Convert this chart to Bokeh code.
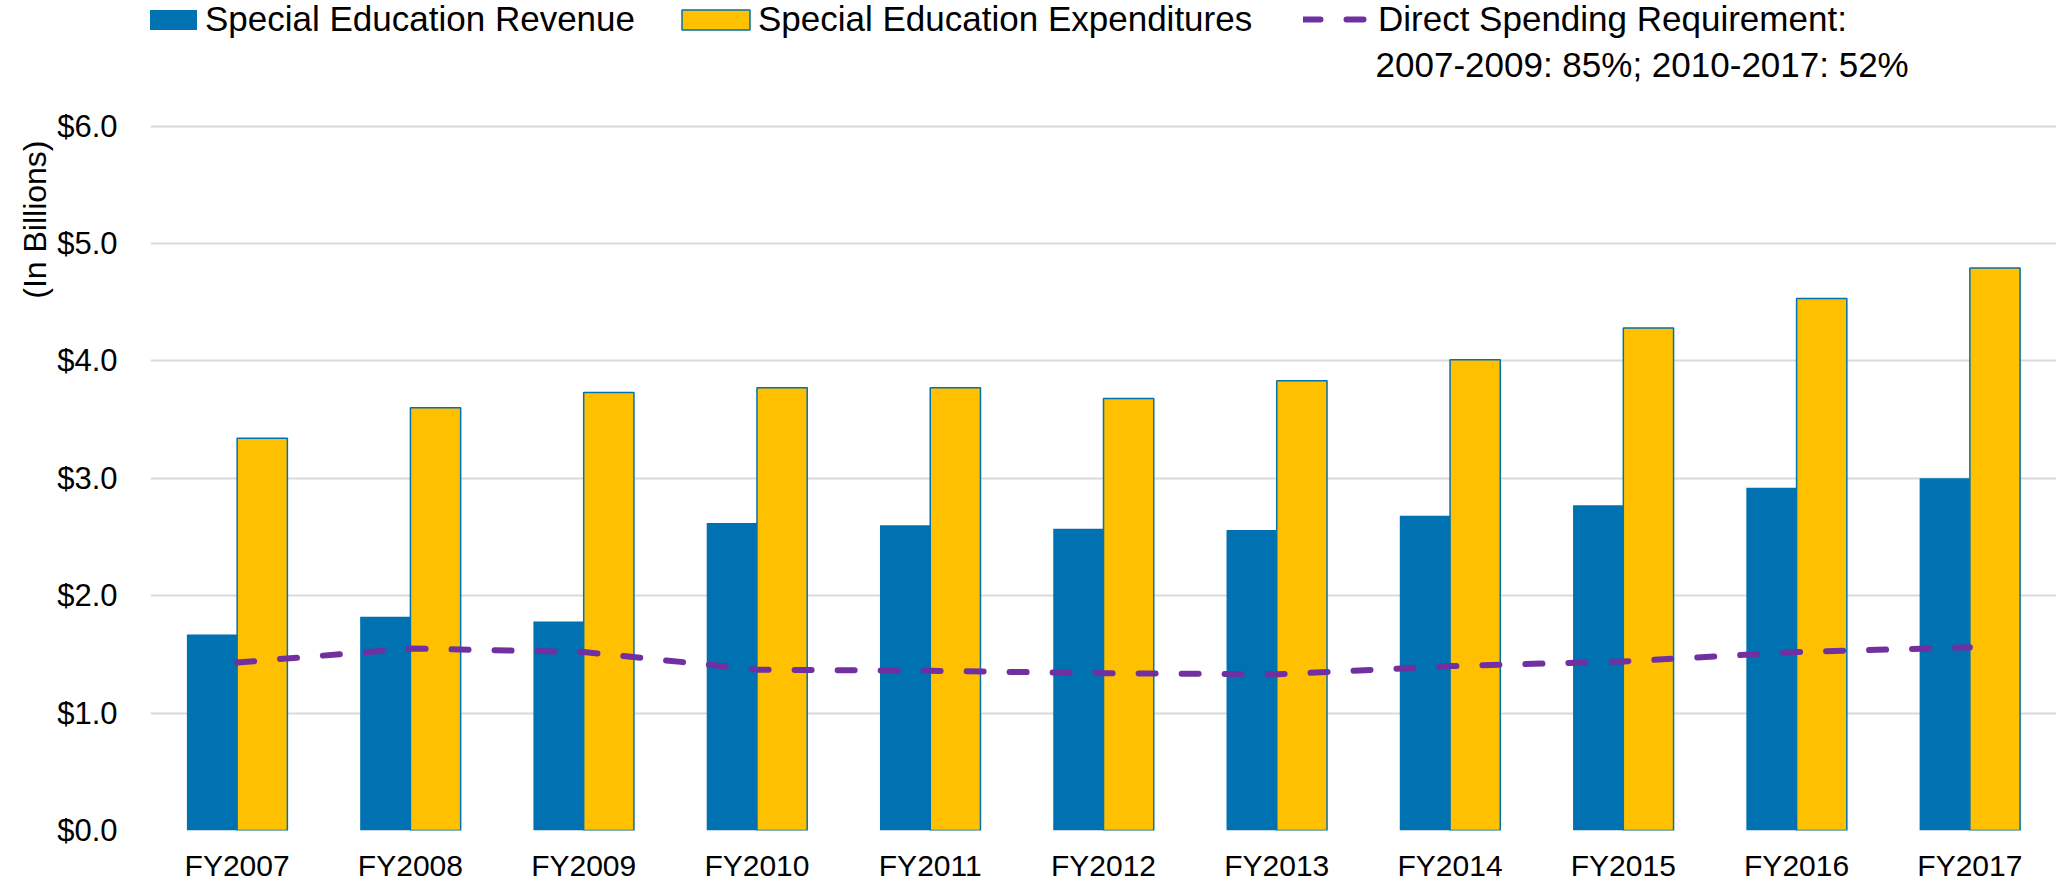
from bokeh.plotting import figure
from bokeh.models import (ColumnDataSource, FixedTicker, Legend, LegendItem, Label, Title)
from bokeh.transform import dodge
from bokeh.embed import file_html
from bokeh.resources import INLINE

# ---- data ----
years = ["FY2007", "FY2008", "FY2009", "FY2010", "FY2011", "FY2012",
         "FY2013", "FY2014", "FY2015", "FY2016", "FY2017"]
revenue = [1.67, 1.82, 1.78, 2.62, 2.60, 2.57, 2.56, 2.68, 2.77, 2.92, 3.00]
expenditures = [3.34, 3.60, 3.73, 3.77, 3.77, 3.68, 3.83, 4.01, 4.28, 4.53, 4.79]
requirement = [1.43, 1.55, 1.52, 1.37, 1.36, 1.34, 1.33, 1.40, 1.44, 1.52, 1.56]
y_ticks = [0, 1, 2, 3, 4, 5, 6]
y_tick_labels = ["$0.0", "$1.0", "$2.0", "$3.0", "$4.0", "$5.0", "$6.0"]
label_rev = "Special Education Revenue"
label_exp = "Special Education Expenditures"
label_req_1 = "Direct Spending Requirement:"
label_req_2 = "2007-2009: 85%; 2010-2017: 52%"
y_title = "(In Billions)"

BLUE = "#0071B1"
GOLD = "#FFC000"
PURPLE = "#7030A0"
GRID = "#D9D9D9"
FONT = "Liberation Sans"

src = ColumnDataSource(dict(year=years, rev=revenue, exp=expenditures, req=requirement))

p = figure(x_range=years, y_range=(0, 7.069), width=2056, height=884,
           output_backend="svg", toolbar_location=None,
           min_border_left=150, min_border_right=0, min_border_top=0,
           min_border_bottom=53)
p.outline_line_color = None
p.background_fill_color = "white"

r_rev = p.vbar(x=dodge("year", -0.145, range=p.x_range), top="rev", width=0.29,
               source=src, fill_color=BLUE, line_color=None)
r_exp = p.vbar(x=dodge("year", 0.145, range=p.x_range), top="exp", width=0.29,
               source=src, fill_color=GOLD, line_color=BLUE, line_width=1.5)
r_req = p.line(x="year", y="req", source=src, line_color=PURPLE, line_width=6,
               line_dash="17 26", line_cap="round")

# axes
p.yaxis.ticker = FixedTicker(ticks=y_ticks)
p.yaxis.major_label_overrides = {t: l for t, l in zip(y_ticks, y_tick_labels)}
p.yaxis.axis_line_color = None
p.yaxis.major_tick_line_color = None
p.yaxis.minor_tick_line_color = None
p.yaxis.major_label_standoff = 27
p.yaxis.major_label_text_font = FONT
p.yaxis.major_label_text_font_size = "31px"
p.yaxis.major_label_text_color = "black"

p.xaxis.axis_line_color = None
p.xaxis.major_tick_line_color = None
p.xaxis.major_label_standoff = 12
p.xaxis.major_label_text_font = FONT
p.xaxis.major_label_text_font_size = "30px"
p.xaxis.major_label_text_color = "black"

p.xgrid.grid_line_color = None
p.ygrid.grid_line_color = GRID
p.ygrid.grid_line_width = 2
p.ygrid.ticker = FixedTicker(ticks=y_ticks)

# y title, near the top of the left side
p.add_layout(Title(text=y_title, align="right", offset=140, text_font=FONT,
                   text_font_size="32px", text_font_style="normal",
                   text_color="black", standoff=4), "left")

# legends
def make_legend(label, renderer, loc, gw, gh, standoff):
    return Legend(items=[LegendItem(label=label, renderers=[renderer])],
                  location=loc, orientation="horizontal", padding=0, margin=0,
                  spacing=0, label_standoff=standoff, glyph_width=gw, glyph_height=gh,
                  label_text_font=FONT, label_text_font_size="35px",
                  label_text_color="black", border_line_color=None,
                  background_fill_alpha=0)

p.add_layout(make_legend(label_rev, r_rev, (-30, 791), 85, 25, 0))
p.add_layout(make_legend(label_exp, r_exp, (523, 791), 85, 25, 0))
p.add_layout(make_legend(label_req_1, r_req, (1153, 791), 68, 20, 7))
p.add_layout(Label(x=7.07, y=6.52, text=label_req_2, text_align="left",
                   text_baseline="middle", text_font=FONT,
                   text_font_size="35px", text_color="black"))

open("out.html", "w").write(file_html(p, INLINE))
